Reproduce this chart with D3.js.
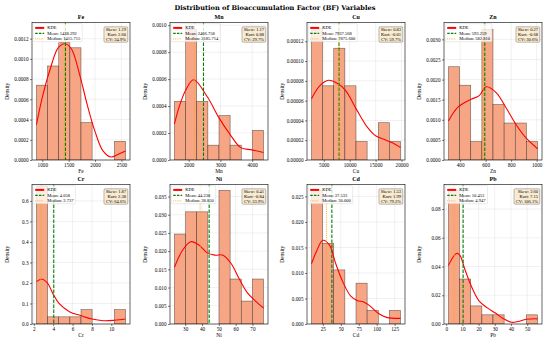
<!DOCTYPE html>
<html><head><meta charset="utf-8">
<script src="https://cdn.jsdelivr.net/npm/d3@7"></script>
<style>body{margin:0;background:#fff}svg{display:block}</style>
</head><body><svg id="c" width="550" height="341"></svg>
<script>
// ---------- data ----------
const variables = ["Fe","Mn","Cu","Zn","Cr","Ni","Cd","Pb"];
// histogram bin ranges [first edge, last edge] (8 equal bins)
const feRange = [889, 2578], mnRange = [1551, 4360], cuRange = [2625, 19812], znRange = [308.5, 1007];
const crRange = [2.27, 11.47], niRange = [23.6, 76.6], cdRange = [9.1, 133.2], pbRange = [1.4, 56.4];
// histogram densities
const feHist = [0.00074, 0.00093, 0.00116, 0.00111, 0.00037, 0, 0, 0.000185];
const mnHist = [0.000435, 0.00097, 0.000435, 0.00011, 0.00033, 0.00011, 0, 0.00022];
const cuHist = [0.000133, 0.000075, 0.000113, 0.000075, 0.0000187, 0, 0.0000377, 0.0000187];
const znHist = [0.00232, 0.00186, 0.00046, 0.00325, 0.00138, 0.00092, 0.00092, 0.00046];
const crHist = [0.67, 0.035, 0.035, 0.035, 0.07, 0, 0, 0.07];
const niHist = [0.0247, 0.0308, 0.0308, 0, 0.0367, 0.01235, 0.0063, 0.01235];
const cdHist = [0.0262, 0.0158, 0.0106, 0, 0.008, 0.00267, 0, 0.00267];
const pbHist = [0.093, 0.0313, 0.0126, 0.0064, 0.0064, 0, 0, 0.0064];
// KDE curves (x, density)
const feKdeX = [889, 1000, 1150, 1300, 1426, 1550, 1700, 1850, 2000, 2150, 2300, 2450, 2578];
const feKdeY = [0.00035, 0.00062, 0.00090, 0.00111, 0.00115, 0.00110, 0.00086, 0.00055, 0.00028, 0.00009, 0.00003, 0.00006, 0.00009];
const mnKdeX = [1551, 1694, 1900, 2154, 2597, 2945, 3303, 3640, 4000, 4360];
const mnKdeY = [0.000266, 0.00039, 0.000515, 0.000595, 0.000465, 0.000316, 0.00019, 0.000092, 0.000075, 0.000055];
const cuKdeX = [2625, 4300, 5938, 7500, 9188, 11250, 13437, 15000, 16560, 18125, 19812];
const cuKdeY = [0.0000619, 0.0000755, 0.0000806, 0.0000778, 0.0000704, 0.0000517, 0.000033, 0.0000245, 0.000021, 0.0000177, 0.0000126];
const znKdeX = [308.5, 385, 486, 550, 605, 684, 760, 837, 913, 1007];
const znKdeY = [0.00097, 0.00132, 0.00151, 0.00160, 0.00182, 0.00167, 0.00130, 0.00089, 0.00056, 0.00028];
const crKdeX = [2.27, 2.83, 3.43, 4.0, 4.6, 5.67, 6.83, 8.0, 9.17, 10.33, 11.47];
const crKdeY = [0.2065, 0.218, 0.198, 0.145, 0.1, 0.06, 0.041, 0.024, 0.016, 0.018, 0.024];
const niKdeX = [23.6, 28.5, 33.3, 38.1, 42.9, 47.7, 52.5, 57.3, 62.1, 66.9, 71.8, 76.6];
const niKdeY = [0.0156, 0.0203, 0.0226, 0.0217, 0.0196, 0.0189, 0.0189, 0.0166, 0.0124, 0.0086, 0.0063, 0.0044];
const cdKdeX = [9.1, 16, 25, 34, 43, 52, 63.6, 72.7, 81.8, 90.9, 102, 113.6, 133.2];
const cdKdeY = [0.0118, 0.0142, 0.0164, 0.0155, 0.0118, 0.0085, 0.0055, 0.0046, 0.0043, 0.0035, 0.0021, 0.0013, 0.0011];
const pbKdeX = [1.4, 4.4, 6.4, 8.4, 11.4, 15.4, 20.4, 25.4, 30.4, 35.4, 40.4, 44.4, 49.4, 56.4];
const pbKdeY = [0.0408, 0.0468, 0.0491, 0.048, 0.0385, 0.0266, 0.0159, 0.0112, 0.0076, 0.0036, 0.0012, 0.0017, 0.0033, 0.0036];
// statistics
const means   = [1438.292, 2466.758, 7937.568, 593.259, 4.058, 44.238, 37.533, 10.453];
const medians = [1415.715, 2185.714, 7875.600, 582.810, 2.737, 38.850, 30.000, 4.947];
const skews   = ["1.19", "1.17", "0.83", "0.27", "1.87", "0.41", "1.53", "2.60"];
const kurts   = ["2.60", "0.88", "-0.01", "-0.68", "2.38", "-0.84", "1.99", "7.15"];
const cvs     = ["24.9%", "29.7%", "59.7%", "30.6%", "64.6%", "33.9%", "79.2%", "106.1%"];
// axis ticks
const feXTicks = [1000, 1500, 2000, 2500], mnXTicks = [2000, 3000, 4000], cuXTicks = [5000, 10000, 15000, 20000], znXTicks = [400, 600, 800, 1000];
const crXTicks = [2, 4, 6, 8, 10], niXTicks = [30, 40, 50, 60, 70], cdXTicks = [25, 50, 75, 100, 125], pbXTicks = [0, 10, 20, 30, 40, 50];
const feYTicks = [0, 0.0002, 0.0004, 0.0006, 0.0008, 0.0010, 0.0012];
const mnYTicks = [0, 0.0002, 0.0004, 0.0006, 0.0008, 0.0010];
const cuYTicks = [0, 0.00002, 0.00004, 0.00006, 0.00008, 0.00010, 0.00012];
const znYTicks = [0, 0.0005, 0.0010, 0.0015, 0.0020, 0.0025, 0.0030];
const crYTicks = [0, 0.1, 0.2, 0.3, 0.4, 0.5, 0.6];
const niYTicks = [0, 0.005, 0.010, 0.015, 0.020, 0.025, 0.030, 0.035];
const cdYTicks = [0, 0.005, 0.010, 0.015, 0.020, 0.025];
const pbYTicks = [0, 0.02, 0.04, 0.06, 0.08];
const yMax = [0.00136, 0.00102, 0.000139, 0.00342, 0.68, 0.0383, 0.02734, 0.0971];
const yFormats = [".4f", ".4f", ".5f", ".4f", ".1f", ".3f", ".3f", ".2f"];

const ranges = [feRange, mnRange, cuRange, znRange, crRange, niRange, cdRange, pbRange];
const hists = [feHist, mnHist, cuHist, znHist, crHist, niHist, cdHist, pbHist];
const kdeXs = [feKdeX, mnKdeX, cuKdeX, znKdeX, crKdeX, niKdeX, cdKdeX, pbKdeX];
const kdeYs = [feKdeY, mnKdeY, cuKdeY, znKdeY, crKdeY, niKdeY, cdKdeY, pbKdeY];
const xTicks = [feXTicks, mnXTicks, cuXTicks, znXTicks, crXTicks, niXTicks, cdXTicks, pbXTicks];
const yTicks = [feYTicks, mnYTicks, cuYTicks, znYTicks, crYTicks, niYTicks, cdYTicks, pbYTicks];

// ---------- layout ----------
const svg = d3.select("#c");
const serif = "'Liberation Serif', 'Times New Roman', serif";
const lefts = [32, 170, 307, 444];
const tops = [22.5, 184.5];
const heights = [137.5, 139.5];
const W = 98;

svg.append("text").attr("x", 275).attr("y", 9.5).attr("text-anchor", "middle")
  .attr("font-family", "'DejaVu Serif', serif").attr("font-weight", "bold").attr("font-size", 6.6)
  .text("Distribution of Bioaccumulation Factor (BF) Variables");

variables.forEach((name, i) => {
  const col = i % 4, row = Math.floor(i / 4);
  const x0 = lefts[col], y0 = tops[row], H = heights[row];
  const g = svg.append("g").attr("transform", `translate(${x0},${y0})`);
  const [a, b] = ranges[i];
  const pad = (b - a) * 0.05;
  const x = d3.scaleLinear().domain([a - pad, b + pad]).range([0, W]);
  const y = d3.scaleLinear().domain([0, yMax[i]]).range([H, 0]);
  const clipId = "clip" + i;
  g.append("clipPath").attr("id", clipId).append("rect").attr("width", W).attr("height", H);

  // grid
  const grid = g.append("g").attr("stroke", "#b0b0b0").attr("stroke-opacity", 0.35).attr("stroke-width", 0.5);
  xTicks[i].forEach(t => grid.append("line").attr("x1", x(t)).attr("x2", x(t)).attr("y1", 0).attr("y2", H));
  yTicks[i].forEach(t => grid.append("line").attr("y1", y(t)).attr("y2", y(t)).attr("x1", 0).attr("x2", W));

  // histogram
  const bw = (b - a) / hists[i].length;
  const plot = g.append("g").attr("clip-path", `url(#${clipId})`);
  plot.selectAll("rect.bar").data(hists[i]).join("rect")
    .attr("x", (d, k) => x(a + k * bw)).attr("width", (d, k) => x(a + (k + 1) * bw) - x(a + k * bw))
    .attr("y", d => y(d)).attr("height", d => H - y(d))
    .attr("fill", "#F6A685").attr("stroke", "#000").attr("stroke-opacity", d => d > 0 ? 0.55 : 0).attr("stroke-width", 0.6);

  // kde
  const pts = kdeXs[i].map((v, k) => [v, kdeYs[i][k]]);
  plot.append("path").attr("d", d3.line().x(d => x(d[0])).y(d => y(d[1])).curve(d3.curveCatmullRom.alpha(0.5))(pts))
    .attr("fill", "none").attr("stroke", "#ff0000").attr("stroke-width", 1.1);

  // mean / median
  plot.append("line").attr("x1", x(means[i])).attr("x2", x(means[i])).attr("y1", 0).attr("y2", H)
    .attr("stroke", "#008000").attr("stroke-width", 1.1).attr("stroke-dasharray", "3.5,1.5");
  plot.append("line").attr("x1", x(medians[i])).attr("x2", x(medians[i])).attr("y1", 0).attr("y2", H)
    .attr("stroke", "#ffa500").attr("stroke-width", 0.9).attr("stroke-dasharray", "1,1.2");

  // axes
  const xa = g.append("g").attr("transform", `translate(0,${H})`)
    .call(d3.axisBottom(x).tickValues(xTicks[i]).tickSize(2).tickPadding(1.5).tickFormat(d3.format("d")));
  const ya = g.append("g").call(d3.axisLeft(y).tickValues(yTicks[i]).tickSize(2).tickPadding(1.5).tickFormat(d3.format(yFormats[i])));
  [xa, ya].forEach(ax => {
    ax.select(".domain").remove();
    ax.selectAll("line").attr("stroke", "#000").attr("stroke-width", 0.5);
    ax.selectAll("text").attr("font-family", serif).attr("font-size", 5.2).attr("fill", "#000");
  });
  g.append("rect").attr("width", W).attr("height", H).attr("fill", "none").attr("stroke", "#000").attr("stroke-width", 0.6);

  // labels
  g.append("text").attr("x", W / 2).attr("y", -3.5).attr("text-anchor", "middle")
    .attr("font-family", serif).attr("font-weight", "bold").attr("font-size", 6).text(name);
  g.append("text").attr("x", W / 2).attr("y", H + 12.8).attr("text-anchor", "middle")
    .attr("font-family", serif).attr("font-size", 5.4).text(name);
  g.append("text").attr("transform", `translate(-23.5,${H / 2}) rotate(-90)`).attr("text-anchor", "middle")
    .attr("font-family", serif).attr("font-size", 5.4).text("Density");

  // legend
  const fmt = d3.format(".3f");
  const entries = [
    {label: "KDE", color: "#ff0000", dash: null, w: 2},
    {label: "Mean: " + fmt(means[i]), color: "#008000", dash: "2.5,1.2", w: 1.1},
    {label: "Median: " + fmt(medians[i]), color: "#ffa500", dash: "0.8,1", w: 0.9}
  ];
  const lg = g.append("g").attr("transform", "translate(1.2,1.2)");
  const lbox = lg.append("rect").attr("rx", 1).attr("fill", "#fff").attr("fill-opacity", 0.8)
    .attr("stroke", "#ccc").attr("stroke-width", 0.4);
  let maxW = 0;
  entries.forEach((e, k) => {
    const yy = 4.2 + k * 5.5;
    lg.append("line").attr("x1", 2).attr("x2", 11).attr("y1", yy).attr("y2", yy)
      .attr("stroke", e.color).attr("stroke-width", e.w).attr("stroke-dasharray", e.dash);
    const t = lg.append("text").attr("x", 14).attr("y", yy + 1.5).attr("font-family", serif)
      .attr("font-size", 4.5).text(e.label);
    maxW = Math.max(maxW, t.node().getComputedTextLength());
  });
  lbox.attr("width", 14 + maxW + 2).attr("height", 18);

  // stats box
  const lines = ["Skew: " + skews[i], "Kurt: " + kurts[i], "CV: " + cvs[i]];
  const sg = g.append("g");
  const sbox = sg.append("rect").attr("rx", 1.2).attr("fill", "#f5deb3").attr("fill-opacity", 0.6)
    .attr("stroke", "#555").attr("stroke-width", 0.4);
  let sw = 0;
  lines.forEach((l, k) => {
    const t = sg.append("text").attr("x", W - 4).attr("y", 8.5 + k * 4.8).attr("text-anchor", "end")
      .attr("font-family", serif).attr("font-size", 4.5).text(l);
    sw = Math.max(sw, t.node().getComputedTextLength());
  });
  sbox.attr("x", W - 4 - sw - 1.8).attr("y", 4.3).attr("width", sw + 3.6).attr("height", 15.4);
});
</script></body></html>
